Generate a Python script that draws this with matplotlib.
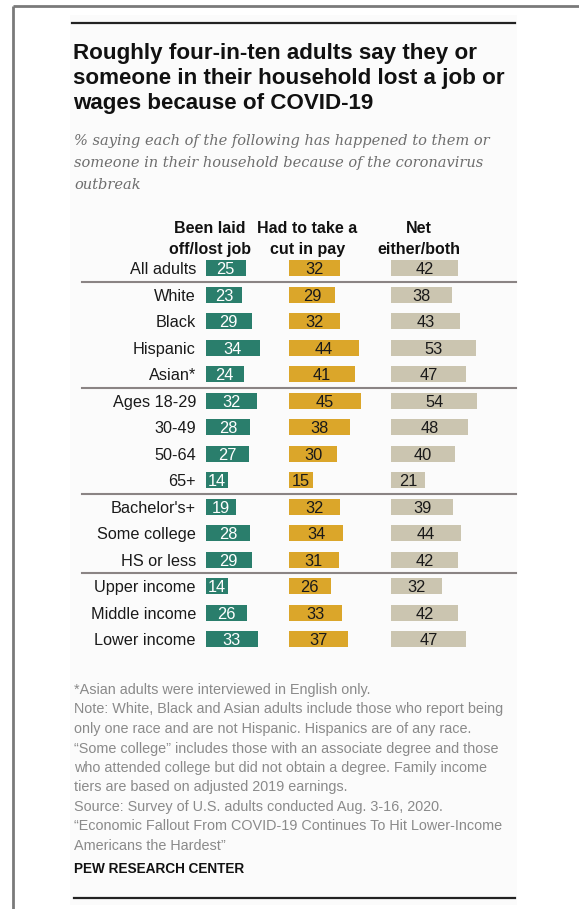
import matplotlib
matplotlib.use("Agg")
import matplotlib.pyplot as plt
from matplotlib.patches import Rectangle

# ---------------- data ----------------
categories = ["All adults", "White", "Black", "Hispanic", "Asian*",
              "Ages 18-29", "30-49", "50-64", "65+",
              "Bachelor's+", "Some college", "HS or less",
              "Upper income", "Middle income", "Lower income"]
laid_off = [25, 23, 29, 34, 24, 32, 28, 27, 14, 19, 28, 29, 14, 26, 33]
pay_cut = [32, 29, 32, 44, 41, 45, 38, 30, 15, 32, 34, 31, 26, 33, 37]
net_either = [42, 38, 43, 53, 47, 54, 48, 40, 21, 39, 44, 42, 32, 42, 47]
column_headers = ["Been laid\noff/lost job", "Had to take a\ncut in pay", "Net\neither/both"]
group_breaks = [0, 4, 8, 11]  # separator after these row indices

title_lines = ["Roughly four-in-ten adults say they or",
               "someone in their household lost a job or",
               "wages because of COVID-19"]
subtitle_lines = ["% saying each of the following has happened to them or",
                  "someone in their household because of the coronavirus",
                  "outbreak"]
note_lines = ["*Asian adults were interviewed in English only.",
              "Note: White, Black and Asian adults include those who report being",
              "only one race and are not Hispanic. Hispanics are of any race.",
              "\u201cSome college\u201d includes those with an associate degree and those",
              "who attended college but did not obtain a degree. Family income",
              "tiers are based on adjusted 2019 earnings.",
              "Source: Survey of U.S. adults conducted Aug. 3-16, 2020.",
              "\u201cEconomic Fallout From COVID-19 Continues To Hit Lower-Income",
              "Americans the Hardest\u201d"]
source_label = "PEW RESEARCH CENTER"

# ---------------- layout ----------------
W, H = 579, 909
fig = plt.figure(figsize=(W / 100, H / 100), dpi=100)
fig.patch.set_facecolor("white")

ov = fig.add_axes([0, 0, 1, 1])
ov.set_xlim(0, W)
ov.set_ylim(H, 0)
ov.axis("off")
ov.patch.set_alpha(0)

def px_rect(x0, y0, x1, y1):
    return [x0 / W, 1 - y1 / H, (x1 - x0) / W, (y1 - y0) / H]

SANS = ["Liberation Sans", "DejaVu Sans"]

# outer frame
ov.plot([12.5, W], [5.5, 5.5], color="#7a7a7a", lw=2.0, solid_capstyle="butt")
ov.plot([12.5, 12.5], [5.5, H], color="#7a7a7a", lw=2.0, solid_capstyle="butt")
# inner panel
ov.add_patch(Rectangle((70, 15), 447, 890, facecolor="#fbfbfb", edgecolor="none"))
ov.plot([72, 515], [23, 23], color="#222222", lw=1.6)
ov.plot([74, 515], [898, 898], color="#222222", lw=1.6)

# title
for i, line in enumerate(title_lines):
    ov.text(73, 53 + 25.3 * i, line, fontsize=16.1, fontweight="bold", family=SANS,
            color="#111111", ha="left", va="center")
# subtitle
for i, line in enumerate(subtitle_lines):
    ov.text(74, 141 + 22 * i, line, fontsize=10.5, style="italic",
            family=["DejaVu Serif"], color="#6e6e6e", ha="left", va="center")

# rows
n = len(categories)
ROW0, PITCH = 268.3, 26.5
def row_y(i):
    return ROW0 + PITCH * i

col_starts = [205.5, 289, 391]
col_centers = [210, 307.5, 419]
PX_PER_UNIT = 1.6
XMAX = 60
series = [laid_off, pay_cut, net_either]
colors = ["#2a7e6c", "#dba62a", "#cbc5b0"]
txt_colors = ["white", "#1a1a1a", "#1a1a1a"]

for c in range(3):
    x0 = col_starts[c]
    ax = fig.add_axes(px_rect(x0, row_y(-0.5), x0 + XMAX * PX_PER_UNIT, row_y(n - 0.5)))
    ax.barh(range(n), series[c], height=0.6, left=0, color=colors[c])
    ax.set_xlim(0, XMAX)
    ax.set_ylim(n - 0.5, -0.5)
    ax.axis("off")
    ax.patch.set_alpha(0)
    for i, v in enumerate(series[c]):
        ax.text(v / 2, i, str(v), ha="center", va="center_baseline", fontsize=11.8,
                family=SANS, color=txt_colors[c])
    hl = column_headers[c].split("\n")
    for k, s in enumerate(hl):
        ov.text(col_centers[c], 228.3 + 21 * k, s, ha="center", va="center",
                fontsize=11.5, fontweight="bold", family=SANS, color="#111111")

for i, cat in enumerate(categories):
    ov.text(196, row_y(i), cat, ha="right", va="center_baseline", fontsize=11.7,
            family=SANS, color="#1a1a1a")

for b in group_breaks:
    y = row_y(b + 0.5)
    ov.plot([82, 516], [y, y], color="#8a8484", lw=1.5)

# notes
for i, line in enumerate(note_lines):
    ov.text(74, 690 + 19.5 * i, line, ha="left", va="center", fontsize=10.4,
            family=SANS, color="#8a8a8a")
ov.text(74, 869, source_label, ha="left", va="center", fontsize=9.8,
        fontweight="bold", family=SANS, color="#111111")

fig.savefig("out.png", dpi=100)
